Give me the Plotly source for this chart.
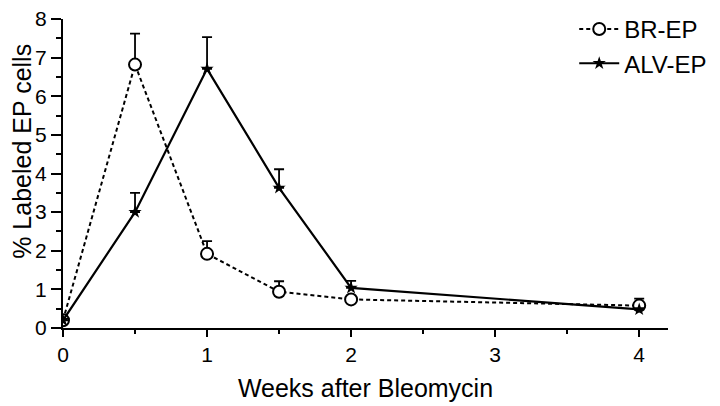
import plotly.graph_objects as go

weeks = [0, 0.5, 1, 1.5, 2, 4]

br_ep = [0.2, 6.82, 1.92, 0.94, 0.74, 0.58]
br_ep_err = [0.0, 0.8, 0.33, 0.27, 0.0, 0.18]

alv_ep = [0.2, 3.0, 6.71, 3.63, 1.04, 0.48]
alv_ep_err = [0.0, 0.5, 0.82, 0.48, 0.18, 0.0]

x_ticks = [0, 1, 2, 3, 4]
y_ticks = [0, 1, 2, 3, 4, 5, 6, 7, 8]

fig = go.Figure()

fig.add_trace(go.Scatter(
    name='BR-EP',
    x=weeks,
    y=br_ep,
    mode='lines+markers',
    line=dict(color='black', width=2, dash='4px,3px'),
    marker=dict(symbol='circle', size=12, color='white', line=dict(color='black', width=2)),
    error_y=dict(type='data', array=br_ep_err, arrayminus=[0] * len(weeks), symmetric=False,
                 color='black', thickness=1.8, width=5),
))

fig.add_trace(go.Scatter(
    name='ALV-EP',
    x=weeks,
    y=alv_ep,
    mode='lines+markers',
    line=dict(color='black', width=2.2),
    marker=dict(symbol='star', size=10, color='black'),
    error_y=dict(type='data', array=alv_ep_err, arrayminus=[0] * len(weeks), symmetric=False,
                 color='black', thickness=1.8, width=5),
))

axis_font = dict(family='Liberation Sans, Arial, sans-serif', size=21, color='black')

# page body has an 8px margin, so the figure is 8px smaller and margins shifted
fig.update_layout(
    width=712,
    height=398,
    plot_bgcolor='white',
    paper_bgcolor='white',
    margin=dict(l=55, r=52, t=11, b=78, autoexpand=False),
    font=axis_font,
    showlegend=True,
    legend=dict(
        x=0.845,
        y=1.039,
        xanchor='left',
        yanchor='top',
        bgcolor='rgba(0,0,0,0)',
        font=dict(size=24),
        itemwidth=40,
        tracegroupgap=4,
    ),
    xaxis=dict(
        range=[0, 4.2],
        tickvals=x_ticks,
        showline=True,
        linecolor='black',
        linewidth=2,
        ticks='outside',
        ticklen=7,
        tickwidth=2,
        tickcolor='black',
        showgrid=False,
        zeroline=False,
        automargin=False,
        minor=dict(dtick=0.5, ticks='outside', ticklen=4, tickwidth=2, tickcolor='black', showgrid=False),
        title=dict(text='Weeks after Bleomycin', standoff=14, font=dict(size=25)),
    ),
    yaxis=dict(
        range=[0, 8],
        tickvals=y_ticks,
        showline=True,
        linecolor='black',
        linewidth=2,
        ticks='outside',
        ticklen=10,
        tickwidth=2,
        tickcolor='black',
        ticklabeloverflow='allow',
        showgrid=False,
        zeroline=False,
        automargin=False,
        minor=dict(dtick=0.5, ticks='outside', ticklen=5, tickwidth=2, tickcolor='black', showgrid=False),
    ),
)

fig.add_annotation(
    text='% Labeled EP cells',
    xref='paper', yref='paper',
    x=-0.069, y=0.571,
    xanchor='center', yanchor='middle',
    textangle=-90,
    showarrow=False,
    font=dict(size=25),
)

fig.write_html("out.html")
